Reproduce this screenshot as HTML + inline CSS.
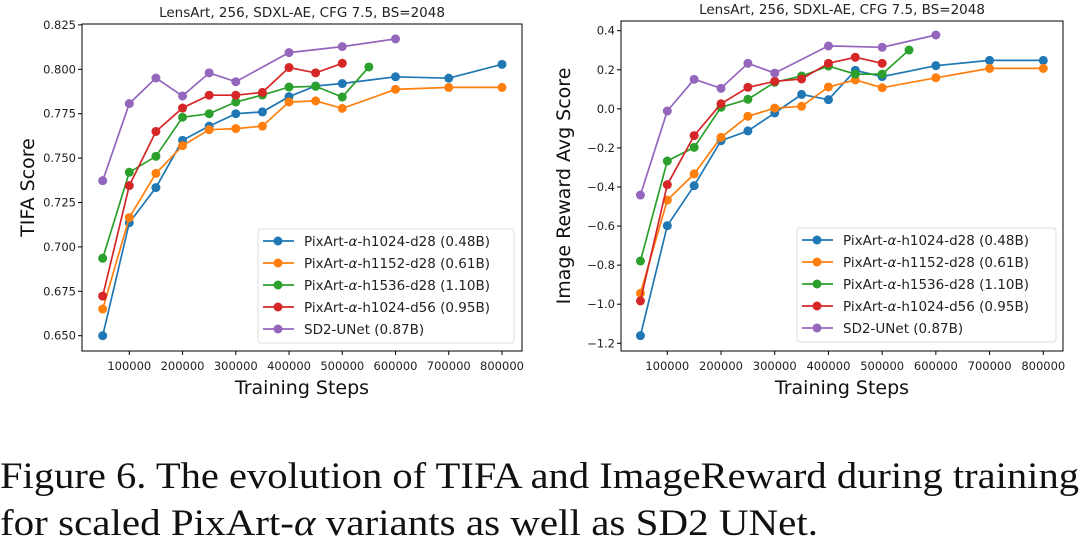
<!DOCTYPE html>
<html><head><meta charset="utf-8"><style>
html,body{margin:0;padding:0;background:#fff;}
svg{display:block;}
.sans{font-family:"DejaVu Sans","Liberation Sans",sans-serif;}
.serif{font-family:"Liberation Serif",serif;}
</style></head><body>
<svg id="fig" width="1081" height="543" viewBox="0 0 1081 543" xmlns="http://www.w3.org/2000/svg">
<g id="left" class="sans"></g>
<g id="right" class="sans"></g>
<text class="serif" x="0" y="488" font-size="37" textLength="1079" lengthAdjust="spacingAndGlyphs" fill="#111">Figure 6. The evolution of TIFA and ImageReward during training</text>
<text class="serif" x="0" y="535" font-size="37" textLength="818" lengthAdjust="spacingAndGlyphs" fill="#111">for scaled PixArt-<tspan font-style="italic">α</tspan> variants as well as SD2 UNet.</text>
</svg>
<script>
const seriesNames = ["PixArt-α-h1024-d28 (0.48B)","PixArt-α-h1152-d28 (0.61B)","PixArt-α-h1536-d28 (1.10B)","PixArt-α-h1024-d56 (0.95B)","SD2-UNet (0.87B)"];
const stepsBlue = [50000,100000,150000,200000,250000,300000,350000,400000,450000,500000,600000,700000,800000];
const stepsOrange = [50000,100000,150000,200000,250000,300000,350000,400000,450000,500000,600000,700000,800000];
const stepsGreen = [50000,100000,150000,200000,250000,300000,350000,400000,450000,500000,550000];
const stepsRed = [50000,100000,150000,200000,250000,300000,350000,400000,450000,500000];
const stepsPurple = [50000,100000,150000,200000,250000,300000,400000,500000,600000];
const tifaBlue = [0.650,0.7136,0.7334,0.760,0.768,0.775,0.776,0.7846,0.7906,0.792,0.7958,0.795,0.8028];
const tifaOrange = [0.665,0.7165,0.7414,0.757,0.766,0.7666,0.768,0.7816,0.7822,0.778,0.7887,0.7898,0.7898];
const tifaGreen = [0.6936,0.742,0.751,0.773,0.775,0.7816,0.7855,0.790,0.7904,0.7844,0.8013];
const tifaRed = [0.6723,0.7345,0.765,0.7782,0.7854,0.7854,0.787,0.801,0.798,0.8034];
const tifaPurple = [0.7373,0.7807,0.7951,0.785,0.798,0.793,0.8094,0.8128,0.8171];
const irBlue = [-1.161,-0.598,-0.393,-0.163,-0.113,-0.021,0.074,0.047,0.197,0.165,0.221,0.248,0.248];
const irOrange = [-0.944,-0.467,-0.333,-0.146,-0.038,0.004,0.013,0.112,0.148,0.108,0.159,0.207,0.207];
const irGreen = [-0.779,-0.267,-0.197,0.008,0.049,0.136,0.168,0.219,0.178,0.178,0.301];
const irRed = [-0.983,-0.388,-0.137,0.026,0.110,0.141,0.153,0.233,0.264,0.233];
const irPurple = [-0.441,-0.011,0.151,0.105,0.233,0.183,0.322,0.315,0.378];
const xTicks = [100000,200000,300000,400000,500000,600000,700000,800000];
const tifaTicks = [0.650,0.675,0.700,0.725,0.750,0.775,0.800,0.825];
const irTicks = [-1.2,-1.0,-0.8,-0.6,-0.4,-0.2,0.0,0.2,0.4];
const colors = ["#1f77b4","#ff7f0e","#2ca02c","#d62728","#9467bd"];
const NS = "http://www.w3.org/2000/svg";
function mk(parent, tag, attrs, txt){
  const e = document.createElementNS(NS, tag);
  for (const k in attrs) e.setAttribute(k, attrs[k]);
  if (txt !== undefined) e.textContent = txt;
  parent.appendChild(e); return e;
}
function draw(g, cfg){
  const {L,R,T,B,x100,x800,yv0,yp0,yv1,yp1} = cfg;
  const sx = v => x100 + (v-100000)/700000*(x800-x100);
  const sy = v => yp0 + (v-yv0)/(yv1-yv0)*(yp1-yp0);
  const title = mk(g,'text',{x:(L+R)/2,y:T-7,'font-size':13.5,'text-anchor':'middle',fill:'#222'},cfg.title);
  
  
  const frame = mk(g,'rect',{x:L,y:T,width:R-L,height:B-T,fill:'none',stroke:'#000','stroke-width':1});
  
  
  xTicks.forEach(t=>{
    const x = sx(t);
    mk(g,'line',{x1:x,x2:x,y1:B,y2:B+4,stroke:'#000'});
    const lb = mk(g,'text',{x:x,y:B+19,'font-size':11.5,'text-anchor':'middle',fill:'#222'},String(t));
    
    
  });
  cfg.ticks.forEach(t=>{
    const y = sy(t);
    mk(g,'line',{x1:L-4,x2:L,y1:y,y2:y,stroke:'#000'});
    const lb = mk(g,'text',{x:L-6,y:y+4,'font-size':11.5,'text-anchor':'end',fill:'#222'},cfg.fmt(t));
    
    
  });
  const xl = mk(g,'text',{x:(L+R)/2,y:B+43,'font-size':19,'text-anchor':'middle',fill:'#111'},'Training Steps');
  
  
  const yl = mk(g,'text',{x:0,y:0,'font-size':19,'text-anchor':'middle',fill:'#111',transform:`translate(${cfg.ylx},${(T+B)/2}) rotate(-90)`},cfg.ylabel);
  
  
  cfg.series.forEach((s,i)=>{
    const sg = mk(g,'g',{});
    
    
    const pts = s.x.map((xv,j)=>sx(xv).toFixed(1)+','+sy(s.y[j]).toFixed(1)).join(' ');
    mk(sg,'polyline',{points:pts,fill:'none',stroke:colors[i],'stroke-width':1.7});
    s.x.forEach((xv,j)=>{
      const c = mk(sg,'circle',{cx:sx(xv),cy:sy(s.y[j]),r:4.5,fill:colors[i]});
      
      
    });
  });
  const lg = mk(g,'g',{});
  
  
  mk(lg,'rect',{x:cfg.lgx,y:cfg.lgy,width:cfg.lgw,height:114,rx:3,fill:'#fff','fill-opacity':0.85,stroke:'#ddd'});
  seriesNames.forEach((n,i)=>{
    const y = cfg.lgy+12+i*22;
    mk(lg,'line',{x1:cfg.lgx+5,x2:cfg.lgx+36,y1:y,y2:y,stroke:colors[i],'stroke-width':1.7});
    mk(lg,'circle',{cx:cfg.lgx+20,cy:y,r:4.5,fill:colors[i]});
    const parts = n.split('α');
    const t = mk(lg,'text',{x:cfg.lgx+46,y:y+5,'font-size':13.5,fill:'#222'});
    
    
    if(parts.length>1){
      mk(t,'tspan',{},parts[0]);
      mk(t,'tspan',{'font-style':'italic'},'α');
      mk(t,'tspan',{},parts[1]);
    } else t.textContent = n;
  });
}
draw(document.getElementById('left'),{
  L:82,R:522,T:24,B:351,x100:129.3,x800:502,yv0:0.650,yp0:335.7,yv1:0.800,yp1:69.3,
  ticks:tifaTicks,fmt:t=>t.toFixed(3),ylabel:'TIFA Score',ylx:34,
  title:'LensArt, 256, SDXL-AE, CFG 7.5, BS=2048',
  lgx:258,lgy:229,lgw:256,
  series:[{x:stepsBlue,y:tifaBlue},{x:stepsOrange,y:tifaOrange},{x:stepsGreen,y:tifaGreen},{x:stepsRed,y:tifaRed},{x:stepsPurple,y:tifaPurple}]
});
draw(document.getElementById('right'),{
  L:621,R:1063,T:21,B:351,x100:667.3,x800:1043.3,yv0:-1.2,yp0:343.3,yv1:0.4,yp1:30.7,
  ticks:irTicks,fmt:t=>t.toFixed(1).replace('-','−'),ylabel:'Image Reward Avg Score',ylx:570,
  title:'LensArt, 256, SDXL-AE, CFG 7.5, BS=2048',
  lgx:797,lgy:228,lgw:259,
  series:[{x:stepsBlue,y:irBlue},{x:stepsOrange,y:irOrange},{x:stepsGreen,y:irGreen},{x:stepsRed,y:irRed},{x:stepsPurple,y:irPurple}]
});
</script>
</body></html>
